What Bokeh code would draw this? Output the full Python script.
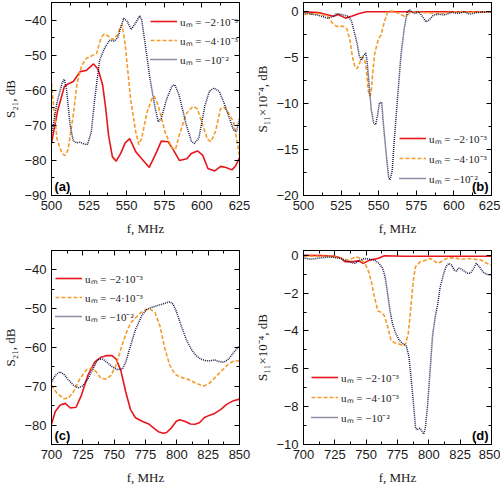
from bokeh.plotting import figure
from bokeh.models import (LinearAxis, SingleIntervalTicker, Range1d, Legend,
                          LegendItem, Label, CustomJSTickFormatter)
from bokeh.layouts import column, row
from bokeh.embed import file_html
from bokeh.resources import INLINE

# ---------------- data ----------------
# Panel (a): S21, dB vs f, MHz (500..625)
a_red_f = [500, 504, 508.5, 511, 514.5, 519, 523, 528, 531, 534, 536, 538, 540.5, 543, 546, 549, 552, 556,
           559, 562, 565, 570, 573, 577.5, 581, 585, 590, 593, 597, 600.5, 604, 608.5, 612.5, 616, 620, 622.5, 625]
a_red_v = [-75.1, -66, -59, -58.2, -57.5, -54.7, -54.4, -52.5, -54, -58.5, -65, -73, -79, -80.2, -78, -75, -73.8, -77.5,
           -79, -80.5, -82, -77.5, -74.5, -74.7, -77, -80, -79.5, -78, -77.3, -78.5, -82.3, -83, -81.7, -82, -82.7, -81.5, -79.3]
a_org_f = [500, 501.5, 503.7, 507, 509, 511, 514.5, 517, 520, 523, 527.6, 530, 533, 535, 537.4, 540.5, 544, 546,
           547, 549, 552.6, 556, 558, 560, 563.5, 567, 568.5, 571, 575.4, 580, 582.4, 585, 589.6, 594, 597,
           600.5, 603.7, 606, 609, 612.4, 614.6, 618, 621, 623, 625]
a_org_v = [-58, -65, -74, -78, -78.6, -77, -67, -58, -53, -51, -50, -49.5, -45, -44, -44.5, -45.6, -44.2, -41.6,
           -41.4, -47, -62.6, -71.8, -75.5, -73.6, -66.3, -62.1, -61.8, -64.4, -71.8, -76.4, -76.9, -72.7, -66.7, -64.6, -65.3,
           -69.9, -74, -74.7, -71.8, -65.3, -64.8, -66.7, -69, -73.6, -79]
a_nav_f = [500, 503.7, 507, 508.5, 510, 512.4, 514.5, 517, 519, 522, 524, 526.5, 528.7, 532, 535, 538.5, 541.7,
           544, 546, 548, 550.4, 553, 556, 558.7, 560, 562, 565.6, 569, 571, 573, 576.5, 580, 582, 585, 589.6,
           593, 595, 598, 602, 605, 608, 611.5, 614.6, 618, 621, 623, 625]
a_nav_v = [-72.7, -63.5, -58, -56.9, -59.8, -70, -74.5, -75, -74.8, -75.4, -75.4, -71.8, -62.6, -51.5, -48.3, -45.8, -46,
           -45, -42.3, -39.5, -40.4, -42.7, -40.8, -38.8, -40, -46, -57, -65.3, -69, -68, -62.6, -58.9, -58.4, -61.6, -69.9,
           -74.5, -75.2, -73.6, -64.4, -60.3, -59.4, -60.3, -63.5, -67.6, -71.3, -71.8, -68.1]

# Panel (b): S11 x 10^-4, dB vs f, MHz (500..625)
b_red_f = [500, 510, 515, 520, 523, 528, 532, 537, 542, 560, 580, 600, 625]
b_red_v = [0, -0.1, -0.3, -0.5, -0.3, -0.7, -0.5, -0.2, 0, 0, 0, 0, 0]
b_org_f = [500, 510, 516, 519, 522, 526.6, 529, 531, 532.5, 534.2, 535.7, 537.5, 539, 540.7, 541.8, 543, 544, 545,
           546, 547.3, 549.4, 551.6, 553.8, 556, 559, 563.6, 567, 569, 572, 580, 590, 600, 610, 625]
b_org_v = [-0.3, -0.2, -0.5, -1.2, -1.6, -1.6, -1.9, -3.2, -4.9, -6, -6.2, -5.5, -4.9, -5.3, -6.3, -8.5, -9.2, -8.8,
           -6.7, -4.6, -3.2, -2.5, -1.1, 0.0, 0.07, -0.2, -0.5, -0.35, 0, -0.1, -0.2, -0.05, -0.05, -0.05]
b_nav_f = [500, 510, 516, 520, 522, 526.6, 529.8, 532, 534.2, 535.7, 537, 538.5, 540, 541.4, 542.2, 543.5, 545,
           546.6, 548, 549.2, 550.5, 552, 553, 555, 556.6, 557.5, 559, 560.3, 562.5, 564.7, 567, 569, 570.6, 572.3,
           574.5, 576.7, 579, 581.4, 583.6, 586.5, 590, 594, 598.4, 603, 607, 610.4, 615, 625]
b_nav_v = [-0.1, -0.4, -0.7, -0.5, -0.2, -0.35, -0.5, -1.05, -2.5, -3.5, -4.75, -5.3, -4.75, -4.5, -5.3, -7.7, -10.6,
           -12.1, -12.3, -11.3, -9.9, -9.9, -12, -15.5, -18, -18.3, -17.3, -14.1, -9.5, -4.9, -1.8, 0, 0.2, -0.07,
           -0.2, 0, -0.5, -1.1, -0.9, -0.35, -0.28, -0.35, -0.07, -0.2, 0, -0.28, -0.1, 0]

# Panel (c): S21, dB vs f, MHz (700..850)
c_red_f = [700, 703, 707, 711, 715, 719.6, 724, 729, 734.4, 739.6, 743.6, 748.3, 751.4, 755.3, 759.2, 763, 767,
           772.3, 777.5, 781.4, 785.3, 789.2, 791.8, 795.7, 799.6, 802.3, 806.2, 810.9, 814.5, 818, 821.8, 825.7,
           829.7, 834.9, 840, 845.3, 850]
c_red_v = [-79.8, -76.5, -74.8, -74.4, -75.6, -75.4, -72.2, -67.2, -63.8, -62.5, -62.1, -62.1, -62.9, -65.9, -71.4,
           -76, -78.1, -79, -79.7, -80.7, -81.7, -82.1, -81.9, -80.7, -79, -78.6, -79, -79.7, -79.8, -79.4, -78.1,
           -77.5, -77.1, -76, -74.6, -73.7, -73.3]
c_org_f = [700, 704.4, 709.7, 713.6, 717.5, 722.7, 728, 731.8, 735.7, 739.6, 743.6, 747.5, 751.4, 755.3, 759.2,
           763, 767, 771, 774.9, 778.8, 782.7, 786.6, 790.5, 794.4, 798.4, 802.3, 808.8, 814, 819.2, 821.8, 825.7,
           830.9, 836.1, 841.3, 845.3, 850]
c_org_v = [-69.7, -71.8, -73.2, -73, -71.4, -68, -65.7, -65.3, -66.3, -68, -68.1, -67.2, -64.6, -60.4, -56.6,
           -53.7, -52.4, -51.1, -50.3, -50.1, -51.1, -54.5, -60.4, -64.6, -66.8, -67.6, -68.2, -69, -69.7, -69.9,
           -69.3, -67.6, -65.9, -64.2, -63.5, -63.4]
c_nav_f = [700, 703, 706.5, 709.7, 713.6, 717.5, 721.4, 724.8, 729.2, 733.1, 737, 741, 745, 748.8, 752.7, 756.6,
           759.2, 763, 767, 772.3, 776.2, 781.4, 786.6, 790.5, 794.4, 797, 799.6, 803.6, 807.5, 811.4, 815.3, 819.2,
           823.1, 827, 830.1, 833.5, 837.4, 841.3, 845.3, 850]
c_nav_v = [-68.9, -67.2, -66.3, -66.8, -68.4, -69.7, -70.4, -69.9, -68, -65.5, -63, -63, -64, -65.1, -65.7, -65.5,
           -63.8, -59.6, -55.4, -51.6, -50.1, -49.5, -49, -48.6, -48.2, -48.8, -50.7, -54.5, -57.9, -60.4, -62.1, -63,
           -63.4, -63.4, -63.2, -63.6, -63.8, -63, -61.3, -59.6]

# Panel (d): S11 x 10^-4, dB vs f, MHz (700..850)
d_red_f = [700, 715, 725, 730, 733, 739.7, 744, 747.6, 752.8, 759.3, 764.5, 780, 800, 850]
d_red_v = [0, -0.02, -0.05, -0.15, -0.34, -0.34, -0.3, -0.43, -0.26, -0.17, -0.03, -0.05, -0.05, -0.05]
d_org_f = [700, 720, 730, 735.8, 739.7, 742.3, 745.5, 748.9, 751.5, 754.1, 756.7, 759.3, 761.9, 764.5, 767.2,
           769.8, 772.4, 776.3, 779.4, 781.5, 783.6, 785.4, 787.5, 789.4, 793.3, 797.2, 801.1, 805, 807.7, 811.6,
           815.5, 820.7, 825.9, 831.2, 836.4, 841.6, 846.3, 850]
d_org_v = [-0.05, -0.05, -0.15, -0.26, -0.14, -0.09, -0.17, -0.43, -0.78, -1.38, -2.24, -2.93, -3.02, -3.19, -3.79,
           -4.48, -4.62, -4.69, -4.79, -4.66, -4.14, -2.93, -1.38, -0.6, -0.34, -0.26, -0.17, -0.34, -0.43, -0.26,
           -0.14, -0.14, -0.21, -0.17, -0.21, -0.26, -0.43, -0.52]
d_nav_f = [700, 705.7, 713.6, 721.4, 729.3, 735.8, 741, 745, 748.9, 752.8, 756.7, 760.1, 763.2, 765.3, 767.2, 769,
           771, 773.7, 776.3, 778.9, 782, 784.1, 786.2, 788.1, 789.4, 790.7, 792.8, 794.6, 795.9, 797.2, 799, 801.1,
           802.9, 805, 807.1, 808.9, 811.6, 813.7, 816, 818.1, 820.2, 822, 823.9, 825.9, 828.6, 831.2, 833.2, 835.9,
           837.9, 840.3, 842.1, 844.2, 847.4, 850]
d_nav_v = [-0.14, -0.21, -0.14, -0.09, -0.17, -0.34, -0.43, -0.26, -0.17, -0.21, -0.26, -0.43, -0.69, -1.21, -2.07,
           -2.93, -3.62, -4.14, -4.48, -4.66, -4.79, -5.34, -6.72, -8.1, -9.14, -9.22, -9.14, -9.31, -9.45, -9.14,
           -7.93, -6.03, -4.31, -3.28, -2.59, -1.72, -1.03, -0.6, -0.43, -0.52, -0.78, -0.83, -0.69, -0.72, -0.86,
           -0.95, -0.95, -0.69, -0.43, -0.6, -0.78, -0.95, -1.03, -1.03]

legend_labels = ["u\u2098 = \u22122\u00b710\u207b\u00b3", "u\u2098 = \u22124\u00b710\u207b\u00b3", "u\u2098 = \u221210\u207b\u00b2"]
x_label = "f, MHz"
y_label_s21 = "S\u2082\u2081, dB"
y_label_s11 = "S\u2081\u2081\u00d710\u207b\u2074, dB"

RED = "#e8161c"
ORANGE = "#f39c2c"
NAVY = "#1a1a48"

TICK_FONT = "Liberation Sans"
SERIF = "Liberation Serif"


def style_axis(ax, show=True):
    ax.major_tick_in = 5
    ax.major_tick_out = 0
    ax.minor_tick_in = 3
    ax.minor_tick_out = 0
    ax.axis_line_color = "black"
    ax.axis_line_width = 1
    ax.major_tick_line_color = "black"
    ax.minor_tick_line_color = "black"
    if show:
        ax.major_label_text_font = TICK_FONT
        ax.major_label_text_font_size = "13px"
        ax.major_label_text_color = "#1a1a1a"
        ax.axis_label_text_font = SERIF
        ax.axis_label_text_font_size = "13px"
        ax.axis_label_text_font_style = "normal"
        ax.axis_label_text_color = "#1a1a1a"
    else:
        ax.formatter = CustomJSTickFormatter(code="return ''")
        ax.major_label_standoff = 0
        ax.axis_label = None


def make_panel(xr, yr, xint, yint, ylabel, series, tag, tag_right, leg_loc, leg_spacing,
               bl, br, bt, bb, fw, fh):
    p = figure(x_range=Range1d(*xr), y_range=Range1d(*yr), frame_width=fw, frame_height=fh,
               min_border_left=bl, min_border_right=br, min_border_top=bt, min_border_bottom=bb,
               output_backend="svg", toolbar_location=None, tools="")
    p.grid.visible = False
    p.outline_line_color = "black"
    p.outline_line_width = 1
    p.background_fill_color = "white"
    p.border_fill_color = "white"

    p.xaxis.ticker = SingleIntervalTicker(interval=xint, num_minor_ticks=2)
    p.yaxis.ticker = SingleIntervalTicker(interval=yint, num_minor_ticks=2)
    for ax in p.xaxis:
        style_axis(ax)
        ax.major_label_standoff = 5
        ax.axis_label_standoff = 8
    for ax in p.yaxis:
        style_axis(ax)
        ax.major_label_standoff = 5
        ax.axis_label_standoff = 3
    p.xaxis.axis_label = x_label
    p.yaxis.axis_label = ylabel

    top = LinearAxis(ticker=SingleIntervalTicker(interval=xint, num_minor_ticks=2))
    style_axis(top, show=False)
    p.add_layout(top, "above")
    right = LinearAxis(ticker=SingleIntervalTicker(interval=yint, num_minor_ticks=2))
    style_axis(right, show=False)
    p.add_layout(right, "right")

    styles = [(RED, None, 1.6), (ORANGE, "4 2", 1.6), (NAVY, "1 1", 1.5)]
    items = []
    for (f, v), (c, dash, w), lab in zip(series, styles, legend_labels):
        if dash is None:
            r = p.line(f, v, line_color=c, line_width=w)
        else:
            r = p.line(f, v, line_color=c, line_width=w, line_dash=dash)
        items.append(LegendItem(label=lab, renderers=[r]))

    leg = Legend(items=items, location=leg_loc, orientation="vertical",
                 glyph_width=27, glyph_height=16, label_height=16, spacing=leg_spacing,
                 padding=0, margin=0, border_line_color=None, background_fill_alpha=0,
                 label_text_font=SERIF, label_text_font_size="11px", label_standoff=3,
                 label_text_color="#1a1a1a")
    p.add_layout(leg)

    if tag_right:
        lbl = Label(x=xr[1], y=yr[0], x_offset=-3, y_offset=2, text=tag, text_align="right",
                    text_baseline="bottom")
    else:
        lbl = Label(x=xr[0], y=yr[0], x_offset=3, y_offset=2, text=tag, text_align="left",
                    text_baseline="bottom")
    lbl.text_font = TICK_FONT
    lbl.text_font_style = "bold"
    lbl.text_font_size = "13px"
    lbl.text_color = "black"
    p.add_layout(lbl)
    return p


pa = make_panel((500, 625), (-90, -35), 25, 10, y_label_s21,
                [(a_red_f, a_red_v), (a_org_f, a_org_v), (a_nav_f, a_nav_v)],
                "(a)", False, (99, 128), 3, 44, 13, 2, 49, 188, 193)
pb = make_panel((500, 625), (-20, 1), 25, 5, y_label_s11,
                [(b_red_f, b_red_v), (b_org_f, b_org_v), (b_nav_f, b_nav_v)],
                "(b)", True, (96, 9), 4, 48, 9, 2, 49, 188, 193)
pc = make_panel((700, 850), (-85, -35), 25, 10, y_label_s21,
                [(c_red_f, c_red_v), (c_org_f, c_org_v), (c_nav_f, c_nav_v)],
                "(c)", False, (4, 120), 3, 44, 13, 6, 44, 188, 194)
pd = make_panel((700, 850), (-10, 0.25), 25, 2, y_label_s11,
                [(d_red_f, d_red_v), (d_org_f, d_org_v), (d_nav_f, d_nav_v)],
                "(d)", True, (8, 19), 4, 48, 9, 6, 44, 188, 194)

layout = column(row(pa, pb), row(pc, pd))
open("out.html", "w").write(file_html(layout, INLINE))
